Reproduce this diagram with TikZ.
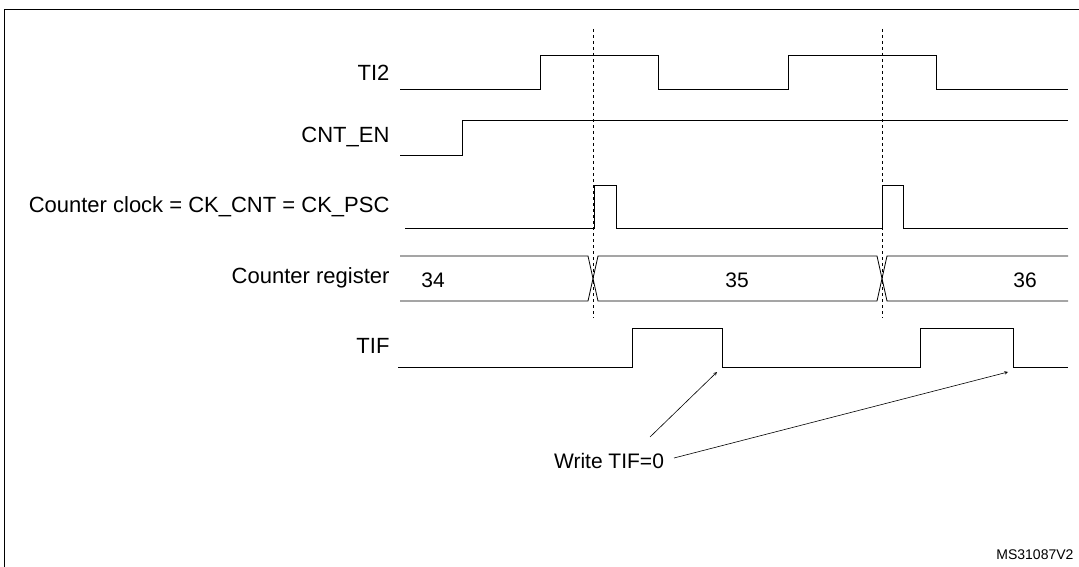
\documentclass[tikz,border=0pt]{standalone}
\usepackage{fontspec}
\setmainfont{Liberation Sans}
\usetikzlibrary{positioning}
\begin{document}
\begin{tikzpicture}[x=1pt,y=-1pt,
    sig/.style={thick},
    lbl/.style={anchor=east,font=\fontsize{22}{26}\selectfont},
    val/.style={font=\fontsize{21}{26}\selectfont}]
        \useasboundingbox (0,0) rectangle (1079,567);
        \draw[thick] (4,567) -- (4,9) -- (1079,9);
        
        % signal names
        \node[lbl] (ti2) at (393,73) {TI2};
        \node[lbl] (cnten) at (393,137) {CNT\_EN};
        \node[lbl] (clk) at (393,207) {Counter clock = CK\_CNT = CK\_PSC};
        \node[lbl] (reg) at (393,278) {Counter register};
        \node[lbl] (tif) at (393,346) {TIF};
        
        % waveforms
        \draw[sig] (400,89) -- (540,89) -- (540,55) -- (658,55) -- (658,89) -- (788,89) -- (788,55) -- (936,55) -- (936,89) -- (1068,89);
        \draw[sig] (400,155) -- (462,155) -- (462,120) -- (1068,120);
        \draw[sig] (405,228) -- (594,228) -- (594,185) -- (616,185) -- (616,228) -- (882,228) -- (882,185) -- (903,185) -- (903,228) -- (1068,228);
        \draw[sig] (400,256) -- (588,256) -- (598,301) -- (877,301) -- (887,256) -- (1068,256);
        \draw[sig] (400,301) -- (588,301) -- (598,256) -- (877,256) -- (887,301) -- (1068,301);
        \node[val] (v34) at (433,280) {34};
        \node[val] (v35) at (737,280) {35};
        \node[val] (v36) at (1025,280) {36};
        \draw[sig] (398,367) -- (632,367) -- (632,328) -- (722,328) -- (722,367) -- (920,367) -- (920,328) -- (1013,328) -- (1013,367) -- (1068,367);
        
        % sampling instants
        \draw[dashed] (593,29) -- (593,318);
        \draw[dashed] (882,29) -- (882,318);
        
        % flag clearing
        \node[val] (wr) at (609,461) {Write TIF=0};
        \coordinate (c1) at (717,372);
        \coordinate (c2) at (1008,372);
        \draw[->,>=stealth,semithick] (650,437) -- (c1);
        \draw[->,>=stealth,semithick] (674,458) -- (c2);
        
        \node[anchor=east,font=\fontsize{14}{16}\selectfont] (ref) at (1077,555) {MS31087V2};
\end{tikzpicture}
\end{document}
